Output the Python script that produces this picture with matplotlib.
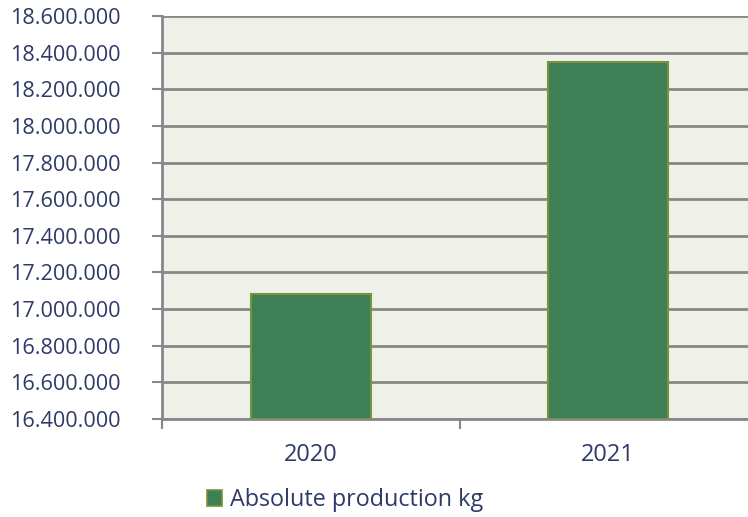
import matplotlib.pyplot as plt
from matplotlib.ticker import FuncFormatter, FixedLocator
from matplotlib.patches import Patch

years = ["2020", "2021"]
production_kg = [17083000, 18351000]
y_ticks = list(range(16400000, 18600001, 200000))

text_col = "#2F3A68"
grid_col = "#878787"

fig = plt.figure(figsize=(7.48, 5.17), dpi=100)
ax = fig.add_axes([162 / 748, 1 - 419 / 517, (757 - 162) / 748, (419 - 16) / 517])
ax.set_facecolor("#EFF1E8")

x = list(range(len(years)))
ax.bar(x, [v - 16400000 for v in production_kg], bottom=16400000, width=0.404,
       color="#3D8055", edgecolor="#77933C", linewidth=1.5, zorder=3,
       label="Absolute production kg")

ax.set_xlim(-0.5, 1.5)
ax.set_ylim(16400000, 18600000)
ax.yaxis.set_major_locator(FixedLocator(y_ticks))
ax.yaxis.set_major_formatter(FuncFormatter(lambda v, p: f"{int(round(v)):,}".replace(",", ".")))
ax.grid(axis="y", color=grid_col, linewidth=2, zorder=1)

ax.xaxis.set_major_locator(FixedLocator([-0.5, 0.5, 1.5]))
ax.xaxis.set_minor_locator(FixedLocator(x))
ax.set_xticklabels([])
ax.set_xticklabels(years, minor=True)
ax.tick_params(axis="x", which="major", length=7, width=1.5, color=grid_col)
ax.tick_params(axis="x", which="minor", length=0, pad=17, labelsize=17, labelcolor=text_col)
ax.tick_params(axis="y", length=7, width=1.5, color=grid_col, labelsize=15.6, labelcolor=text_col, pad=23)

for s in ["top", "right"]:
    ax.spines[s].set_visible(False)
for s in ["left", "bottom"]:
    ax.spines[s].set_color(grid_col)
    ax.spines[s].set_linewidth(2)

for lab in ax.get_yticklabels() + ax.get_xticklabels(minor=True):
    lab.set_fontfamily("Open Sans")

handle = Patch(facecolor="#3D8055", edgecolor="#77933C", linewidth=1.2)
fig.legend([handle], ["Absolute production kg"], loc="center left",
           bbox_to_anchor=(186 / 748, 1 - 500 / 517), frameon=False,
           handlelength=0.65, handleheight=0.65, handletextpad=0.35,
           prop={"family": "Open Sans", "size": 16.8}, labelcolor=text_col)

fig.savefig("out.png", dpi=100)
